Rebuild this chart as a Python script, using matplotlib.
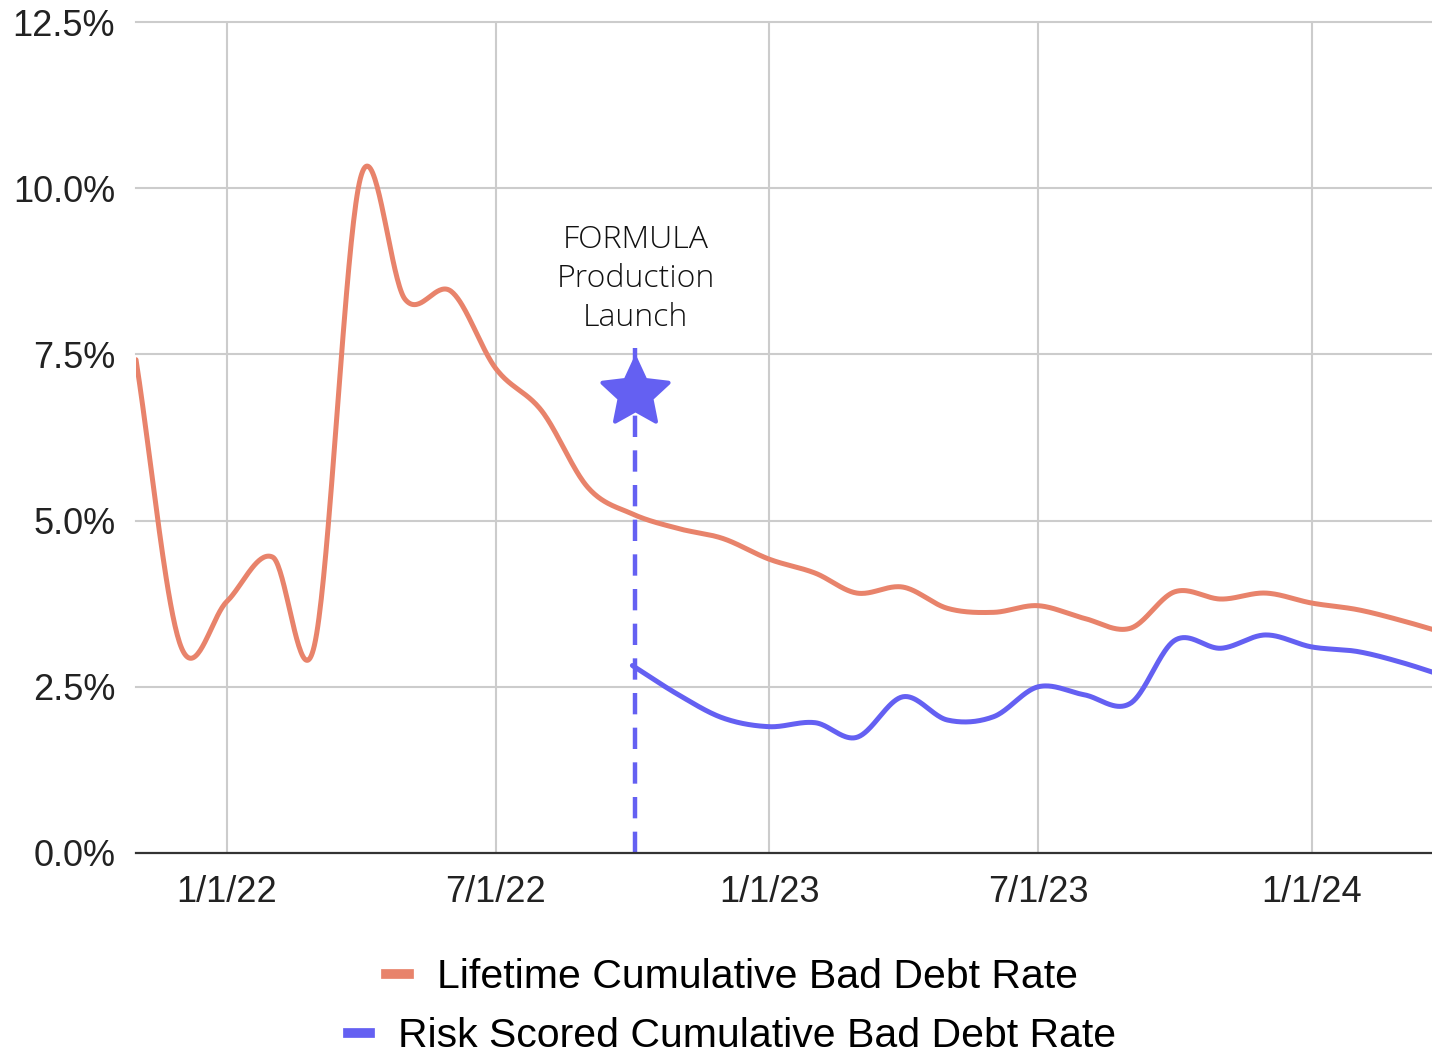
# bad debt rate trend, lifetime vs risk scored
import numpy as np
import pandas as pd

import matplotlib
matplotlib.use("Agg")
import matplotlib.pyplot as plt
import matplotlib.dates  as mdates
from matplotlib.lines   import Line2D
from matplotlib.markers import MarkerStyle
from matplotlib.path    import Path

# DATA
LIFETIME_DATES = pd.date_range("2021-11-01", "2024-04-01", freq="MS")
LIFETIME_RATE = [
    7.42, 3.12,
    3.78, 4.45, 3.12, 10.15, 8.33, 8.45, 7.29, 6.65, 5.50, 5.10, 4.88, 4.73,
    4.42, 4.21, 3.91, 4.00, 3.68, 3.62, 3.72, 3.53, 3.38, 3.93, 3.82, 3.91,
    3.76, 3.66, 3.50, 3.30,
]

SCORED_DATES = pd.date_range("2022-10-01", "2024-04-01", freq="MS")
SCORED_RATE = [
    2.82, 2.38, 2.03,
    1.90, 1.96, 1.74, 2.35, 2.00, 2.05, 2.50, 2.38, 2.25, 3.20, 3.08, 3.28,
    3.10, 3.03, 2.87, 2.65,
]

LAUNCH_DATE = pd.Timestamp("2022-10-03")
LAUNCH_TOP = 7.6
LAUNCH_STAR = 6.92
LAUNCH_TEXT = "FORMULA\nProduction\nLaunch"
LAUNCH_TEXT_Y = 8.63

SERIES_LABELS = ["Lifetime Cumulative Bad Debt Rate",
                 "Risk Scored Cumulative Bad Debt Rate"]

TICK_DATES = pd.to_datetime(["2022-01-01", "2022-07-01", "2023-01-01",
                             "2023-07-01", "2024-01-01"])
TICK_LABELS = ["1/1/22", "7/1/22", "1/1/23", "7/1/23", "1/1/24"]
Y_TICKS = [0, 2.5, 5.0, 7.5, 10.0, 12.5]

X_START = pd.Timestamp("2021-11-01")
X_END = pd.Timestamp("2024-03-22")

ORANGE = "#E8836B"
BLUE = "#6460F2"
GRID = "#CCCCCC"


def smooth(dates, values, n=40):
    # cubic hermite through every point, catmull-rom style tangents
    x = mdates.date2num(dates)
    y = np.asarray(values, dtype=float)
    m = np.empty_like(y)
    m[1:-1] = (y[2:] - y[:-2]) / (x[2:] - x[:-2])
    m[0] = (y[1] - y[0]) / (x[1] - x[0])
    m[-1] = (y[-1] - y[-2]) / (x[-1] - x[-2])

    xs, ys = [], []
    for i in range(len(x) - 1):
        h = x[i+1] - x[i]
        t = np.linspace(0, 1, n, endpoint=False)
        h00 = 2*t**3 - 3*t**2 + 1
        h10 = t**3 - 2*t**2 + t
        h01 = -2*t**3 + 3*t**2
        h11 = t**3 - t**2
        xs.append(x[i] + t*h)
        ys.append(h00*y[i] + h10*h*m[i] + h01*y[i+1] + h11*h*m[i+1])
    xs.append([x[-1]])
    ys.append([y[-1]])
    return np.concatenate(xs), np.concatenate(ys)


def fat_star(inner=0.48):
    # five pointed star, a bit chubbier than the built-in one
    ang = np.pi/2 + np.arange(10) * np.pi/5
    r = np.where(np.arange(10) % 2 == 0, 1.0, inner)
    verts = np.column_stack([r*np.cos(ang), r*np.sin(ang)])
    verts = np.vstack([verts, verts[:1]])
    codes = [Path.MOVETO] + [Path.LINETO]*9 + [Path.CLOSEPOLY]
    return MarkerStyle(Path(verts, codes), joinstyle="round")


def main():
    fig = plt.figure(figsize=(14.32, 10.54), dpi=100)
    ax = fig.add_axes([136/1432, 1 - 853/1054, 1 - 136/1432, (853 - 22)/1054])

    # grid first so the lines sit on top
    for d in TICK_DATES:
        ax.axvline(d, color=GRID, lw=1.5, zorder=0)
    for v in Y_TICKS[1:]:
        ax.axhline(v, color=GRID, lw=1.5, zorder=0, clip_on=False)

    sx, sy = smooth(LIFETIME_DATES, LIFETIME_RATE)
    ax.plot(mdates.num2date(sx), sy, color=ORANGE, lw=3.6, zorder=3,
            solid_capstyle="round")
    sx, sy = smooth(SCORED_DATES, SCORED_RATE)
    ax.plot(mdates.num2date(sx), sy, color=BLUE, lw=3.6, zorder=3,
            solid_capstyle="round")

    # launch marker
    ax.plot([LAUNCH_DATE, LAUNCH_DATE], [0, LAUNCH_TOP], color=BLUE, lw=3.2,
            linestyle=(0, (4.8, 3.0)), zorder=4)
    ax.plot([LAUNCH_DATE], [LAUNCH_STAR], marker=fat_star(), markersize=50,
            color=BLUE, markeredgecolor=BLUE, markeredgewidth=3,
            markerfacecolor=BLUE, zorder=5, linestyle="none")
    ax.text(LAUNCH_DATE, LAUNCH_TEXT_Y, LAUNCH_TEXT, ha="center", va="center",
            fontsize=23, family=["Open Sans", "DejaVu Sans"], fontweight=300,
            color="#111111", linespacing=1.3)

    ax.set_xlim(X_START, X_END)
    ax.set_ylim(0, 12.5)

    ax.set_xticks(TICK_DATES)
    ax.set_xticklabels(TICK_LABELS)
    ax.set_yticks(Y_TICKS)
    ax.set_yticklabels(["{:.1f}%".format(v) for v in Y_TICKS])
    ax.tick_params(axis="x", length=0, pad=16, labelsize=26, labelcolor="#222222")
    ax.tick_params(axis="y", length=0, pad=15, labelsize=26, labelcolor="#222222")
    for lbl in ax.get_xticklabels() + ax.get_yticklabels():
        lbl.set_family(["Liberation Sans", "DejaVu Sans"])

    for side in ["top", "right", "left"]:
        ax.spines[side].set_visible(False)
    ax.spines["bottom"].set_color("#333333")
    ax.spines["bottom"].set_linewidth(1.6)
    ax.spines["bottom"].set_zorder(6)

    # one legend per row so each row is centred on its own
    for color, label, ypix in [(ORANGE, SERIES_LABELS[0], 977),
                               (BLUE, SERIES_LABELS[1], 1036)]:
        fig.legend(handles=[Line2D([], [], color=color, lw=7)], labels=[label],
                   loc="center", bbox_to_anchor=(732/1432, 1 - ypix/1054),
                   frameon=False, handlelength=0.55, handletextpad=0.68,
                   borderpad=0, borderaxespad=0,
                   prop={"family": ["Liberation Sans", "DejaVu Sans"], "size": 29.5})

    fig.savefig("out.png", dpi=100)
    return


if __name__ == "__main__":
    main()
